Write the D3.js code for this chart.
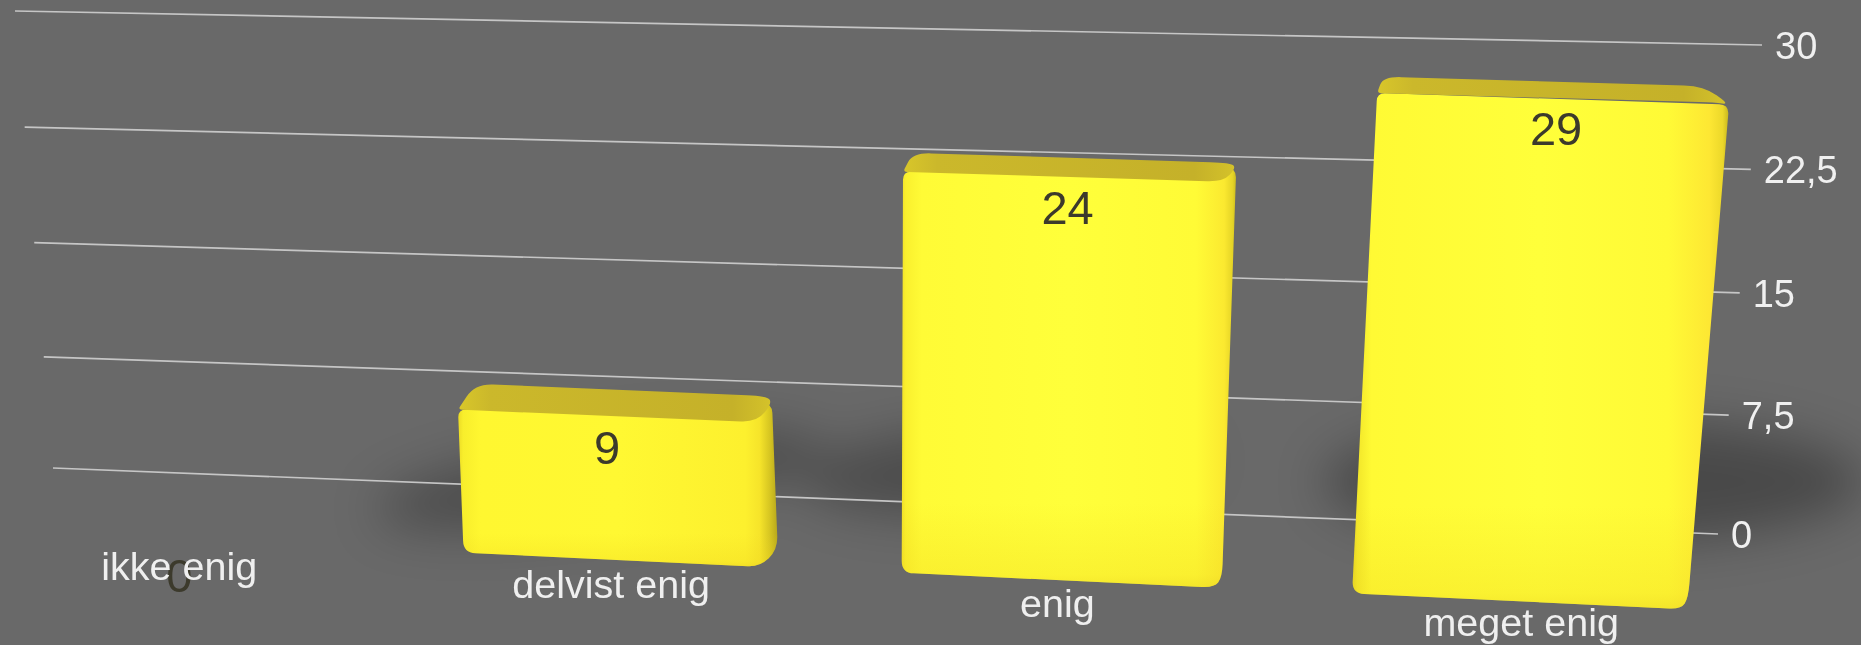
<!DOCTYPE html>
<html><head><meta charset="utf-8">
<script src="https://cdn.jsdelivr.net/npm/d3@7/dist/d3.min.js"></script>
<style>html,body{margin:0;padding:0;background:#696969;overflow:hidden}svg{display:block}</style>
</head><body><svg id="c" width="1861" height="645"></svg>
<script>
const categories = ["ikke enig", "delvist enig", "enig", "meget enig"];
const values = [0, 9, 24, 29];
const tickValues = [0, 7.5, 15, 22.5, 30];
const tickLabels = ["0", "7,5", "15", "22,5", "30"];

const FONT = "'Liberation Sans', Arimo, Helvetica, Arial, sans-serif";
const svg = d3.select("#c");
const defs = svg.append("defs");
svg.append("rect").attr("width", 1861).attr("height", 645).attr("fill", "#696969");

// --- back wall (gridlines) perspective
const wallLX = d3.scalePow().exponent(1.02).domain([0, 30]).range([53, 15]);
const wallLY = d3.scalePow().exponent(1.02).domain([0, 30]).range([468, 11]);
const wallRX = d3.scalePow().exponent(1.02).domain([0, 30]).range([1718, 1762]);
const wallRY = d3.scalePow().exponent(1.02).domain([0, 30]).range([534, 45]);

// --- front plane of bars: bilinear perspective map
const catT = d3.scaleLinear().domain([0, 1, 2, 3]).range([.12, .362, .612, .869]);
const valS = d3.scaleLinear().domain([0, 9, 24, 29, 30]).range([0, .29, .8, .982, 1]);
const botX = d3.scaleLinear().domain([0, 1]).range([-35, 1750]);
const botY = d3.scaleLinear().domain([0, 1]).range([530, 612]);
const topX = d3.scaleLinear().domain([0, 1]).range([-91, 1790]);
const topY = d3.scaleLinear().domain([0, 1]).range([46, 95]);
const halfT = d3.scaleLinear().domain([.362, .869]).range([.0855, .0947]);
const front = (t, v) => {
  const s = valS(v);
  return [botX(t) + (topX(t) - botX(t)) * s, botY(t) + (topY(t) - botY(t)) * s];
};

// --- depth of each bar as seen from the camera, by bar height
const dv = [9, 24, 29];
const topDy = d3.scaleLinear().domain(dv).range([26, 19, 16.5]);
const topLDx = d3.scaleLinear().domain(dv).range([17, 10, 6]);
const topRDx = d3.scaleLinear().domain(dv).range([10, 7, -11]);
const outDx = d3.scaleLinear().domain(dv).range([15, 13, 14]);
const outDy = d3.scaleLinear().domain(dv).range([-19, -14, 2]);
const baseDx = d3.scaleLinear().domain(dv).range([18, 8, 7]);
const baseDy = d3.scaleLinear().domain(dv).range([-17, -10, -11]);
const insetTL = d3.scaleLinear().domain(dv).range([8, 11, 12]);
const insetTR = d3.scaleLinear().domain(dv).range([3, 4, 6]);
const insetBL = 5, insetBR = 4;

// --- floor shadow placement, relative to each bar's base
const shadowDx = [0, -8, -57, 73];
const shadowDy = [0, 0, -29, -37];
const shadowRx = [0, 225, 200, 270];
const shadowRy = [0, 40, 45, 62];
const shadowTilt = [0, -8, -3, 0];

function rounded(pts, radii) {
  const p = d3.path(), n = pts.length;
  const toward = (a, b, r) => {
    const d = Math.hypot(b[0] - a[0], b[1] - a[1]) || 1, k = Math.min(r, d / 2) / d;
    return [a[0] + (b[0] - a[0]) * k, a[1] + (b[1] - a[1]) * k];
  };
  pts.forEach((c, i) => {
    const prev = pts[(i + n - 1) % n], next = pts[(i + 1) % n], r = radii[i] || 0;
    const a = toward(c, prev, r), b = toward(c, next, r);
    if (i === 0) p.moveTo(a[0], a[1]); else p.lineTo(a[0], a[1]);
    p.quadraticCurveTo(c[0], c[1], b[0], b[1]);
  });
  p.closePath();
  return p.toString();
}

// defs
const blur = (id, sd) => defs.append("filter").attr("id", id)
  .attr("filterUnits", "userSpaceOnUse").attr("x", 0).attr("y", 0).attr("width", 1861).attr("height", 645)
  .append("feGaussianBlur").attr("stdDeviation", sd);
blur("bShadow", 24);
const grad = (id, stops, horiz = true) => {
  const g = defs.append("linearGradient").attr("id", id).attr("x1", 0).attr("y1", 0)
    .attr("x2", horiz ? 1 : 0).attr("y2", horiz ? 0 : 1);
  stops.forEach(([o, c, a]) => g.append("stop").attr("offset", o).attr("stop-color", c).attr("stop-opacity", a === undefined ? 1 : a));
};
grad("body1", [[0, "#ecdc26"], [.015, "#f8ee2c"], [.07, "#fff730"], [.5, "#fff832"], [.9, "#fdf02e"], [.945, "#f6e42a"], [.975, "#d8c722"], [1, "#b8a81c"]]);
grad("body2", [[0, "#f0e028"], [.012, "#faf02e"], [.06, "#fffb36"], [.5, "#ffff3a"], [.88, "#fffb36"], [.965, "#fbe930"], [.99, "#e5d426"], [1, "#cdbd20"]]);
grad("body3", [[0, "#e2d224"], [.012, "#f2e62a"], [.05, "#fffa34"], [.5, "#ffff3a"], [.84, "#fffa36"], [.95, "#fde733"], [.985, "#ecd82a"], [1, "#c9b820"]]);
grad("bottomShade", [[0, "#f0d820", 0], [.8, "#f0d820", 0], [.97, "#f0d820", .32], [1, "#e8d020", .5]], false);
grad("topG", [[0, "#d8c62a"], [.1, "#cbb82b"], [.88, "#c5b129"], [1, "#d4c22a"]]);

// --- shadows on the floor
const shadowG = svg.append("g").attr("filter", "url(#bShadow)");
values.forEach((v, i) => {
  if (!v) return;
  const [cx, cy] = front(catT(i), 5);
  const x = cx + shadowDx[i], y = cy + shadowDy[i];
  shadowG.append("ellipse")
    .attr("cx", x).attr("cy", y).attr("rx", shadowRx[i]).attr("ry", shadowRy[i])
    .attr("transform", `rotate(${shadowTilt[i]} ${x} ${y})`)
    .attr("fill", "#000").attr("opacity", i === 3 ? .3 : .27);
});

// --- gridlines
svg.append("g").selectAll("line").data(tickValues).join("line")
  .attr("x1", d => wallLX(d)).attr("y1", d => wallLY(d))
  .attr("x2", d => wallRX(d)).attr("y2", d => wallRY(d))
  .attr("stroke", "#c6c6c6").attr("stroke-width", 1.7);

// --- tick labels
svg.append("g").selectAll("text").data(tickValues).join("text")
  .attr("x", d => wallRX(d) + 13).attr("y", d => wallRY(d) + 14)
  .attr("font-family", FONT).attr("font-size", 38).attr("fill", "#f0f0f0")
  .text((d, i) => tickLabels[i]);

// --- bars
const barsG = svg.append("g");
const shift = (p, dx) => [p[0] + dx, p[1]];
values.forEach((v, i) => {
  if (!v) return;
  const t = catT(i), h = halfT(t);
  const BL = shift(front(t - h, 0), insetBL), BR = shift(front(t + h, 0), -insetBR);
  const TL = shift(front(t - h, v), insetTL(v)), TR = shift(front(t + h, v), -insetTR(v));
  const backL = [TL[0] + topLDx(v), TL[1] - topDy(v)];
  const backR = [TR[0] + topRDx(v), TR[1] - topDy(v)];
  const outT = [TR[0] + outDx(v), TR[1] + outDy(v)];
  const outB = [BR[0] + baseDx(v), BR[1] + baseDy(v)];
  const g = barsG.append("g");
  const bodyPts = [TL, outT, outB, BR, BL];
  const bodyR = [8, 10, 14, 12, 12];
  g.append("path").attr("d", rounded(bodyPts, bodyR)).attr("fill", `url(#body${i})`);
  g.append("path").attr("d", rounded(bodyPts, bodyR)).attr("fill", "url(#bottomShade)");
  g.append("path").attr("d", rounded([TL, backL, backR, outT, TR], [4, 18, 20, 10, 16])).attr("fill", "url(#topG)");
});

// --- data labels
const labelDx = d3.scaleLinear().domain([0, 9, 24, 29]).range([0, 2, 8, 13]);
const labelDy = d3.scaleLinear().domain([0, 9, 29]).range([52, 48, 47]);
svg.append("g").selectAll("text").data(values).join("text")
  .attr("x", (d, i) => front(catT(i), d)[0] + labelDx(d))
  .attr("y", (d, i) => front(catT(i), d)[1] + labelDy(d))
  .attr("text-anchor", "middle").attr("font-family", FONT).attr("font-size", 47)
  .attr("fill", "#3c3a2c").text(d => d);

// --- category labels
const catDx = d3.scaleLinear().domain([0, 2, 3]).range([0, 0, 5]);
const catDy = d3.scaleLinear().domain([0, 3]).range([40, 35]);
svg.append("g").selectAll("text").data(categories).join("text")
  .attr("x", (d, i) => front(catT(i), 0)[0] + catDx(i))
  .attr("y", (d, i) => front(catT(i), 0)[1] + catDy(i))
  .attr("text-anchor", "middle").attr("font-family", FONT).attr("font-size", 39.5)
  .attr("fill", "#efefef").text(d => d);
</script></body></html>
